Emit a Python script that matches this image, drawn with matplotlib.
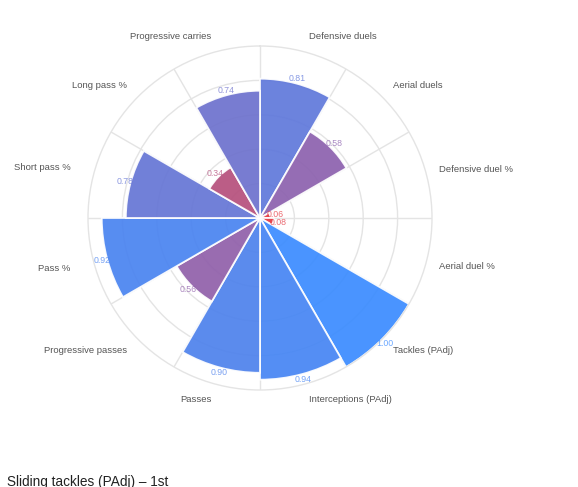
import numpy as np
import matplotlib
matplotlib.use("Agg")
import matplotlib.pyplot as plt
from matplotlib.colors import LinearSegmentedColormap

# categories clockwise from the top
categories = ["Defensive duels", "Aerial duels", "Defensive duel %", "Aerial duel %",
              "Tackles (PAdj)", "Interceptions (PAdj)", "Passes", "Progressive passes",
              "Pass %", "Short pass %", "Long pass %", "Progressive carries"]
values = [0.81, 0.58, 0.06, 0.08, 1.00, 0.94, 0.90, 0.56, 0.92, 0.78, 0.34, 0.74]
caption = "Sliding tackles (PAdj) \u2013 1st"

plt.rcParams['font.family'] = ['Liberation Sans', 'DejaVu Sans']

cmap = LinearSegmentedColormap.from_list(
    "redblue", [(0.0, "#f03535"), (0.57, "#8e60ac"), (1.0, "#3a8bff")])

W, H = 578, 487
fig = plt.figure(figsize=(W / 100, H / 100), dpi=100)
cx, cy, R = 260, 218, 172
ax = fig.add_axes([(cx - R) / W, (H - cy - R) / H, 2 * R / W, 2 * R / H], projection="polar")
ax.set_theta_zero_location("N")
ax.set_theta_direction(-1)

n = len(categories)
step = 2 * np.pi / n
theta = np.arange(n) * step + step / 2
colors = [cmap(v) for v in values]

ax.bar(theta, values, width=step, bottom=0, color=colors, alpha=0.92,
       edgecolor="white", linewidth=1.3, zorder=2)

ax.set_ylim(0, 1)
ax.set_yticks([0.2, 0.4, 0.6, 0.8])
ax.set_yticklabels([])
ax.set_xticks(np.arange(n) * step)
ax.set_xticklabels([])
ax.grid(True, color="#e4e4e4", linewidth=1.0)
ax.set_axisbelow(True)
ax.spines["polar"].set_color("#e4e4e4")
ax.spines["polar"].set_linewidth(1.0)
ax.tick_params(length=0)

# value labels at the tip of each bar
for t, v, c in zip(theta, values, colors):
    r = v + 5 / R
    ax.text(t, r, f"{v:.2f}", color=c, alpha=0.75, fontsize=6.3,
            ha="center", va="center", zorder=3)

# category labels round the outside
for t, lab in zip(theta, categories):
    s = np.sin(t)
    ha = "left" if s > 0 else "right"
    if abs(np.cos(t)) > 0.5:
        r_lab = 1.09
    else:
        r_lab = 1.08 if s > 0 else 1.14
    ax.text(t, r_lab, lab, color="#555555", fontsize=6.8, ha=ha, va="center",
            clip_on=False)

fig.text(7 / W, 1 - 475 / H, caption, fontsize=9.8, color="#222222",
         ha="left", va="top")

fig.savefig("out.png", dpi=100)
